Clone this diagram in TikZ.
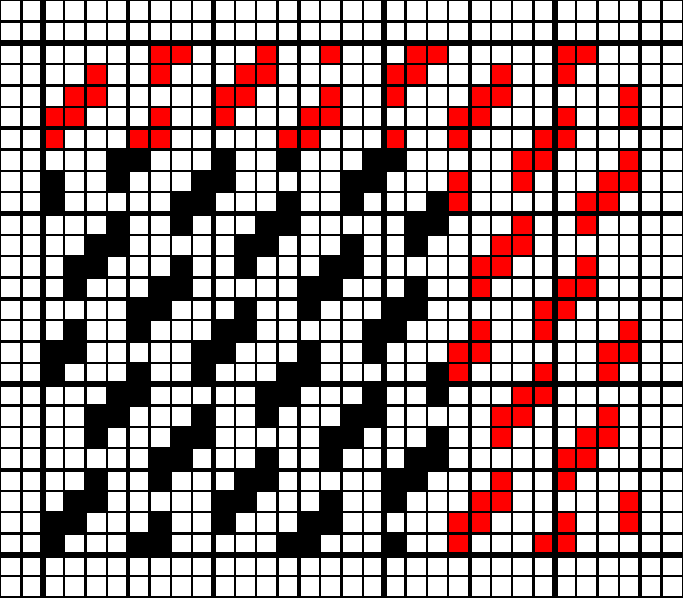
\documentclass[tikz,border=0pt]{standalone}
\begin{document}
\begin{tikzpicture}[x=0.5cm,y=0.5cm,
  blackcell/.style={fill=black},
  redcell/.style={fill=red},
  gridthin/.style={draw=black,line width=1.6pt},
  gridmid/.style={draw=black,line width=2.6pt},
  gridthick/.style={draw=black,line width=3.8pt}]
\useasboundingbox (0,0) rectangle (32,-28);
\fill[white] (0,0) rectangle (32,-28);
% red rows (top repeat and right repeat)
\foreach \r/\cs in {
  2/{7,8,12,15,19,20,26,27},
  3/{4,7,11,12,18,19,23,26},
  4/{3,4,10,11,15,18,22,23,29},
  5/{2,3,7,10,14,15,21,22,26,29},
  6/{2,6,7,13,14,18,21,25,26},
  7/{24,25,29},
  8/{21,24,28,29},
  9/{21,27,28},
  10/{24,27},
  11/{23,24},
  12/{22,23,27},
  13/{22,26,27},
  14/{25,26},
  15/{22,25,29},
  16/{21,22,28,29},
  17/{21,25,28},
  18/{24,25},
  19/{23,24,28},
  20/{23,27,28},
  21/{26,27},
  22/{23,26},
  23/{22,23,29},
  24/{21,22,26,29},
  25/{21,25,26}}
  {\foreach \c in \cs {\fill[redcell] (\c,-\r) rectangle ++(1,-1);}}
% black rows
\foreach \r/\cs in {
  7/{5,6,10,13,17,18},
  8/{2,5,9,10,16,17},
  9/{2,8,9,13,16,20},
  10/{5,8,12,13,19,20},
  11/{4,5,11,12,16,19},
  12/{3,4,8,11,15,16},
  13/{3,7,8,14,15,19},
  14/{6,7,11,14,18,19},
  15/{3,6,10,11,17,18},
  16/{2,3,9,10,14,17},
  17/{2,6,9,13,14,20},
  18/{5,6,12,13,17,20},
  19/{4,5,9,12,16,17},
  20/{4,8,9,15,16,20},
  21/{7,8,12,15,19,20},
  22/{4,7,11,12,18,19},
  23/{3,4,10,11,15,18},
  24/{2,3,7,10,14,15},
  25/{2,6,7,13,14,18}}
  {\foreach \c in \cs {\fill[blackcell] (\c,-\r) rectangle ++(1,-1);}}
% grid lines
\foreach \x in {0,...,32} {\draw[gridthin] (\x,0) -- (\x,-28);}
\foreach \y in {0,...,28} {\draw[gridthin] (0,-\y) -- (32,-\y);}
\foreach \x in {6,14,22,30} {\draw[gridmid] (\x,0) -- (\x,-28);}
\foreach \y in {6,14,22} {\draw[gridmid] (0,-\y) -- (32,-\y);}
\foreach \x in {2,10,18,26} {\draw[gridthick] (\x,0) -- (\x,-28);}
\foreach \y in {2,10,18,26} {\draw[gridthick] (0,-\y) -- (32,-\y);}
\end{tikzpicture}
\end{document}
